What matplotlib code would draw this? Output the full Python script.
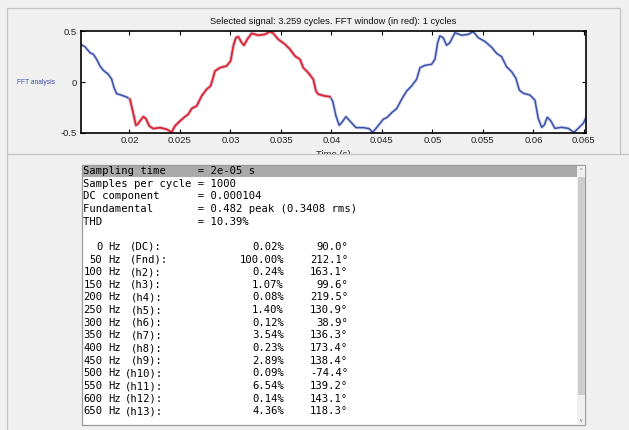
import matplotlib
matplotlib.use('Agg')
import numpy as np
import matplotlib.pyplot as plt
from matplotlib.patches import Rectangle

# signal (time in s, value)
t = [0.01517, 0.01559, 0.01609, 0.01642, 0.01675, 0.01708, 0.01741, 0.0179, 0.01824, 0.01847,
     0.01873, 0.01923, 0.01972, 0.02005, 0.02032, 0.02064, 0.0208, 0.02104, 0.02137, 0.02163,
     0.02196, 0.02236, 0.02302, 0.02368, 0.02418, 0.0245, 0.025, 0.0255, 0.02582, 0.02615,
     0.02665, 0.02715, 0.02764, 0.02804, 0.02847, 0.02896, 0.02962, 0.03002, 0.03028, 0.03054,
     0.03077, 0.03111, 0.03134, 0.03167, 0.0321, 0.03275, 0.03342, 0.03391, 0.03424, 0.03473,
     0.0354, 0.0359, 0.03639, 0.03688, 0.03721, 0.0377, 0.0382, 0.03847, 0.0387, 0.03936,
     0.03985, 0.04012, 0.04045, 0.04077, 0.04101, 0.04144, 0.04183, 0.04243, 0.04315, 0.04374,
     0.04408, 0.04447, 0.04513, 0.0455, 0.046, 0.04646, 0.04695, 0.04745, 0.04794, 0.04844,
     0.04877, 0.04926, 0.04992, 0.05025, 0.05052, 0.05074, 0.05107, 0.0514, 0.05173, 0.05223,
     0.05289, 0.05355, 0.05404, 0.05454, 0.0552, 0.05586, 0.05635, 0.05685, 0.05734, 0.05784,
     0.05827, 0.0586, 0.05899, 0.05965, 0.06015, 0.06048, 0.06082, 0.06108, 0.06137, 0.06171,
     0.06213, 0.0628, 0.06345, 0.06401, 0.06444, 0.06494, 0.06518]
v = [0.372, 0.348, 0.289, 0.273, 0.224, 0.158, 0.115, 0.076, 0.027, -0.056,
     -0.115, -0.131, -0.148, -0.171, -0.286, -0.427, -0.417, -0.385, -0.342, -0.362,
     -0.434, -0.46, -0.45, -0.466, -0.495, -0.434, -0.385, -0.342, -0.319, -0.263,
     -0.237, -0.138, -0.072, -0.039, 0.108, 0.141, 0.158, 0.207, 0.355, 0.437,
     0.447, 0.388, 0.362, 0.421, 0.48, 0.461, 0.47, 0.497, 0.48, 0.421,
     0.372, 0.322, 0.256, 0.224, 0.141, 0.092, 0.027, -0.089, -0.121, -0.138,
     -0.145, -0.187, -0.335, -0.427, -0.401, -0.342, -0.385, -0.45, -0.45, -0.46,
     -0.497, -0.45, -0.368, -0.35, -0.3, -0.263, -0.171, -0.089, -0.039, 0.027,
     0.141, 0.164, 0.175, 0.224, 0.388, 0.454, 0.437, 0.362, 0.388, 0.486,
     0.461, 0.47, 0.497, 0.437, 0.4, 0.343, 0.283, 0.25, 0.151, 0.102,
     0.036, -0.079, -0.111, -0.128, -0.178, -0.358, -0.447, -0.424, -0.348, -0.381,
     -0.457, -0.447, -0.457, -0.497, -0.457, -0.407, -0.358]

fft_start, fft_end = 0.0199, 0.0401
xticks = [0.02, 0.025, 0.03, 0.035, 0.04, 0.045, 0.05, 0.055, 0.06, 0.065]
xticklabels = ['0.02', '0.025', '0.03', '0.035', '0.04', '0.045', '0.05', '0.055', '0.06', '0.065']
yticks = [-0.5, 0, 0.5]
yticklabels = ['-0.5', '0', '0.5']

header = ['Sampling time     = 2e-05 s',
          'Samples per cycle = 1000',
          'DC component      = 0.000104',
          'Fundamental       = 0.482 peak (0.3408 rms)',
          'THD               = 10.39%']
freqs = [0, 50, 100, 150, 200, 250, 300, 350, 400, 450, 500, 550, 600, 650]
labels = ['(DC):', '(Fnd):', '(h2):', '(h3):', '(h4):', '(h5):', '(h6):', '(h7):',
          '(h8):', '(h9):', '(h10):', '(h11):', '(h12):', '(h13):']
pct = ['0.02%', '100.00%', '0.24%', '1.07%', '0.08%', '1.40%', '0.12%', '3.54%',
       '0.23%', '2.89%', '0.09%', '6.54%', '0.14%', '4.36%']
phase = ['90.0°', '212.1°', '163.1°', '99.6°', '219.5°', '130.9°', '38.9°', '136.3°',
         '173.4°', '138.4°', '-74.4°', '139.2°', '143.1°', '118.3°']

W, H = 629, 430
bg = '#f0f0f0'
plt.rcParams['font.family'] = ['Liberation Sans', 'DejaVu Sans']
fig = plt.figure(figsize=(W / 100, H / 100), dpi=100, facecolor=bg)

# signal axes
ax = fig.add_axes([80.7 / W, 1 - 132.7 / H, 505 / W, 101.4 / H], zorder=1)
t = np.array(t)
v = np.array(v)
win = (t >= fft_start) & (t <= fft_end)
ax.plot(t, v, color='#a4b0e0', lw=2.4, alpha=0.5)
ax.plot(t, v, color='#3a4fa8', lw=1.1)
ax.plot(t[win], v[win], color='#f4a0a4', lw=2.4, alpha=0.6)
ax.plot(t[win], v[win], color='#e3202a', lw=1.1)
ax.set_xlim(0.01517, 0.06518)
ax.set_ylim(-0.5, 0.5)
ax.set_xticks(xticks)
ax.set_xticklabels(xticklabels)
ax.set_yticks(yticks)
ax.set_yticklabels(yticklabels)
ax.tick_params(direction='in', length=3, width=0.8, labelsize=6.8, pad=2.5,
               top=True, right=True, colors='black', labelcolor='#222222')
for s in ax.spines.values():
    s.set_linewidth(1.2)
ax.set_title('Selected signal: 3.259 cycles. FFT window (in red): 1 cycles',
             fontsize=6.7, pad=5, color='#111111')
ax.set_xlabel('Time (s)', fontsize=6.8, color='#222222', va='top')
ax.xaxis.set_label_coords(0.5, -0.175)

# panels, list box and texts in pixel coordinates
ov = fig.add_axes([0, 0, 1, 1], zorder=2)
ov.set_xlim(0, W)
ov.set_ylim(H, 0)
ov.axis('off')
ov.patch.set_alpha(0)

ov.plot([7, 620, 620], [8, 8, 154], color='#c4c4c4', lw=0.9)
ov.plot([7, 7], [8, 154], color='#c4c4c4', lw=0.9)
ov.add_patch(Rectangle((7, 154), W, H, facecolor=bg, edgecolor='#c4c4c4', lw=0.9))
ov.text(17, 83, 'FFT analysis', fontsize=4.8, color='#3a4fa8', va='center', ha='left')

# list box
ov.add_patch(Rectangle((82, 165), 503, 260, facecolor='white', edgecolor='#9a9a9a', lw=0.9))
ov.add_patch(Rectangle((82.5, 165.5), 494.5, 11.5, facecolor='#aaaaaa', edgecolor='none'))
ov.add_patch(Rectangle((577, 165.5), 8, 259, facecolor='#f0f0f0', edgecolor='none'))
ov.add_patch(Rectangle((577.5, 177), 7, 218, facecolor='#cdcdcd', edgecolor='none'))
ov.text(581, 171, '^', fontsize=4, ha='center', va='center', color='#606060')
ov.text(581, 420, 'v', fontsize=3.5, ha='center', va='center', color='#606060')

mono = dict(family=['DejaVu Sans Mono'], fontsize=7.6, color='black', va='center')
y0, dy = 171, 12.65
for i, line in enumerate(header):
    ov.text(83, y0 + i * dy, line, ha='left', **mono)
for i in range(len(freqs)):
    y = y0 + (i + 6) * dy
    ov.text(102.5, y, str(freqs[i]), ha='right', **mono)
    ov.text(108, y, 'Hz', ha='left', **mono)
    if i < 4:
        ov.text(130, y, labels[i], ha='left', **mono)
    else:
        ov.text(163, y, labels[i], ha='right', **mono)
    ov.text(284, y, pct[i], ha='right', **mono)
    ov.text(348, y, phase[i], ha='right', **mono)

fig.savefig('out.png', dpi=100, facecolor=bg)
